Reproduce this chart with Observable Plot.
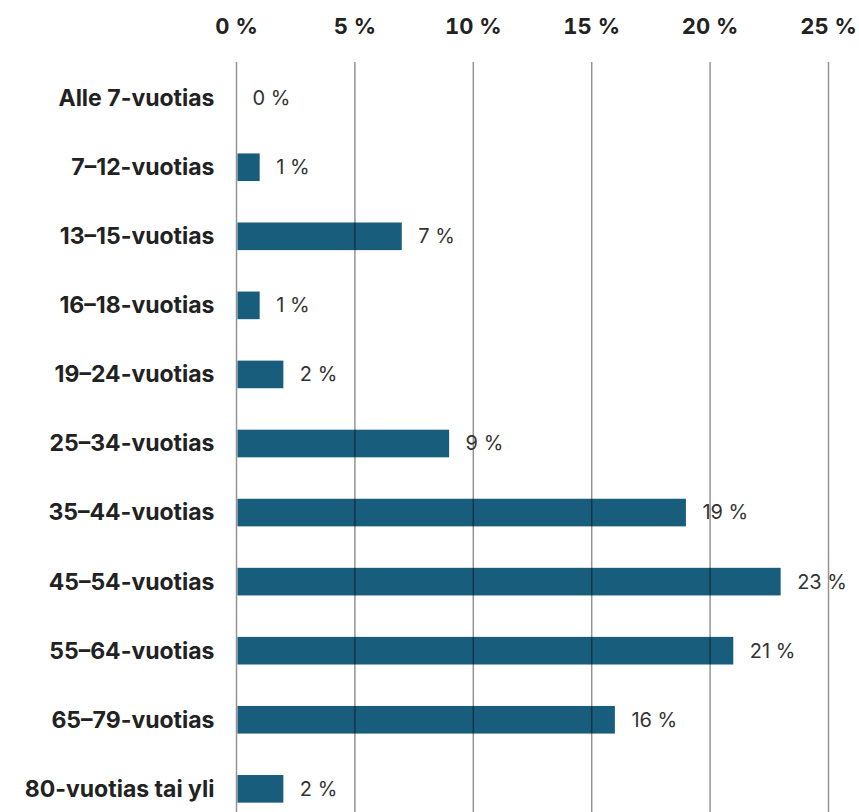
<!DOCTYPE html>
<html>
<head>
<meta charset="utf-8">
<script src="https://cdn.jsdelivr.net/npm/d3@7"></script>
<script src="https://cdn.jsdelivr.net/npm/@observablehq/plot@0.6"></script>
<style>
  html, body { margin: 0; padding: 0; background: #fff; }
  #chart svg { display: block; }
</style>
</head>
<body>
<div id="chart"></div>
<script>
const ageGroups = [
  "Alle 7-vuotias", "7–12-vuotias", "13–15-vuotias", "16–18-vuotias",
  "19–24-vuotias", "25–34-vuotias", "35–44-vuotias", "45–54-vuotias",
  "55–64-vuotias", "65–79-vuotias", "80-vuotias tai yli"
];
const shares = [0, 1, 7, 1, 2, 9, 19, 23, 21, 16, 2];
const xTicks = [0, 5, 10, 15, 20, 25];

const data = ageGroups.map((g, i) => ({group: g, value: shares[i]}));
const pct = d => `${d} %`;

const chart = Plot.plot({
  width: 859,
  height: 812,
  marginLeft: 236,
  marginRight: 31,
  marginTop: 74,
  marginBottom: -1,
  style: {fontFamily: "Inter, sans-serif", background: "#fff"},
  x: {domain: [0, 25], ticks: xTicks},
  y: {domain: ageGroups, paddingInner: 0.6, paddingOuter: 0.15, round: false},
  marks: [
    Plot.barX(data, {x: "value", y: "group", fill: "#195d7c", insetLeft: 1.5}),
    Plot.ruleX(xTicks, {stroke: "#000", strokeOpacity: 0.42, strokeWidth: 1.5, insetTop: -12}),
    Plot.text(data, {
      x: "value", y: "group", text: d => pct(d.value),
      textAnchor: "start", dx: 16, fontSize: 20, fill: "#333"
    }),
    Plot.axisX({
      anchor: "top", ticks: xTicks, tickSize: 0, tickPadding: 41,
      tickFormat: pct, fontSize: 22, fontWeight: 700, fill: "#222", label: null
    }),
    Plot.axisY({
      anchor: "left", tickSize: 0, tickPadding: 22,
      fontSize: 23, fontWeight: 700, fill: "#222", label: null
    })
  ]
});
document.getElementById("chart").appendChild(chart);
</script>
</body>
</html>
